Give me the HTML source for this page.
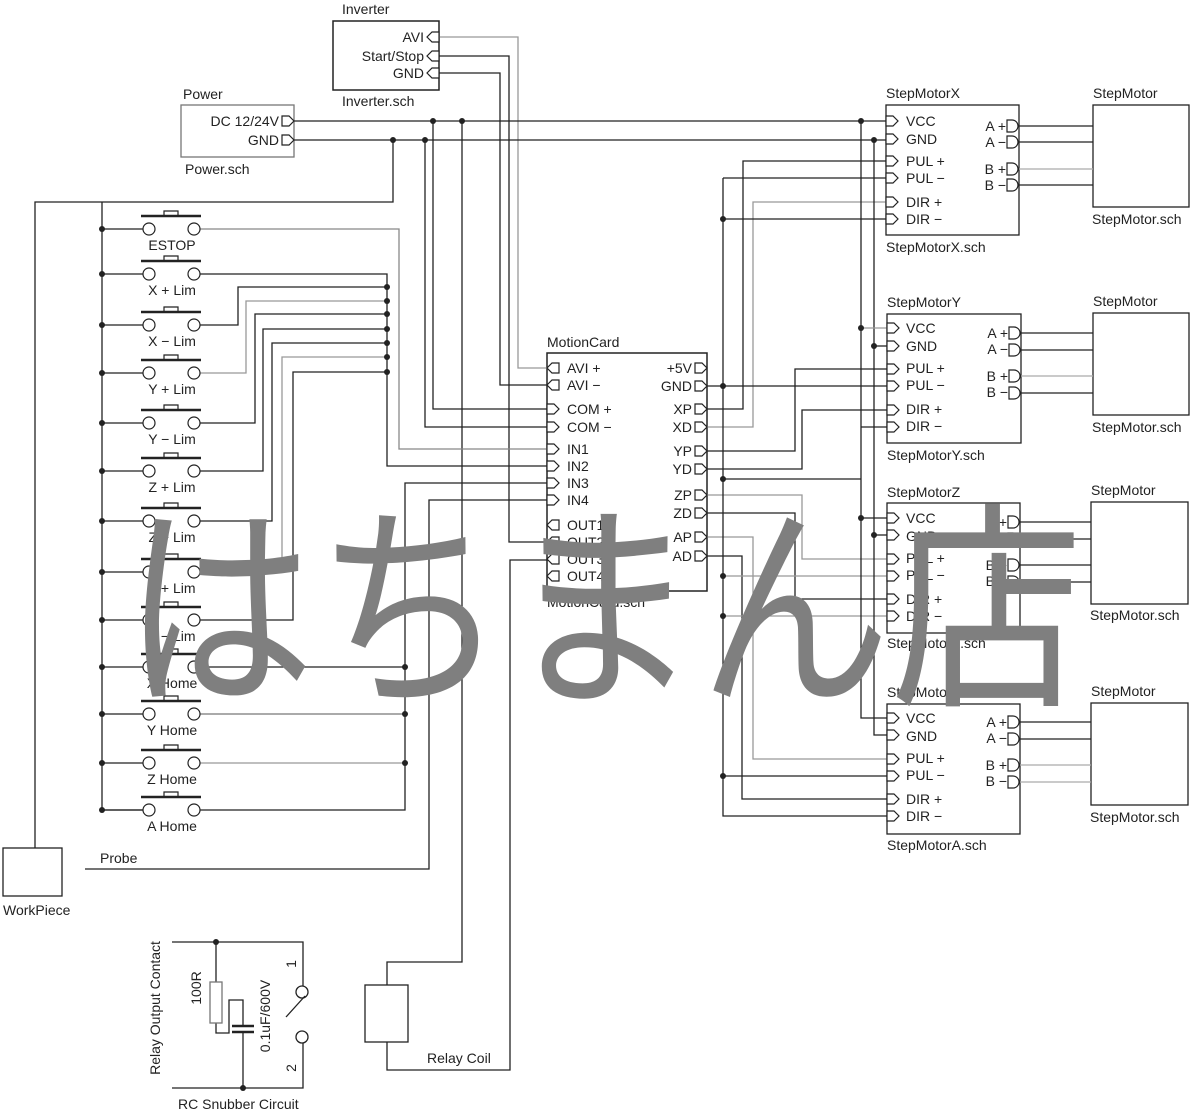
<!DOCTYPE html>
<html><head><meta charset="utf-8"><style>
html,body{margin:0;padding:0;background:#fff;}
svg{display:block;}
text{font-family:"Liberation Sans",sans-serif;font-size:14px;fill:#222;}
.wm{font-family:"Noto Sans CJK JP","Liberation Sans",sans-serif;font-size:200px;fill:#7f7f7f;}
</style></head><body>
<svg width="1200" height="1112" viewBox="0 0 1200 1112" xmlns="http://www.w3.org/2000/svg">
<defs>
<path id="pr" d="M-12,-5h7l5,5l-5,5h-7z" fill="#fff" stroke="#222" stroke-width="1.2"/>
<path id="pin" d="M0,-5h7l5,5l-5,5h-7z" fill="#fff" stroke="#222" stroke-width="1.2"/>
<path id="pl" d="M12,-5h-7l-5,5l5,5h7z" fill="#fff" stroke="#222" stroke-width="1.2"/>
<path id="plr" d="M0,-5h-7l-5,5l5,5h7z" fill="#fff" stroke="#222" stroke-width="1.2"/>
<path id="pd" d="M-12,-6h5a6,6 0 0 1 0,12h-5z" fill="#fff" stroke="#222" stroke-width="1.2"/>
<g id="sw"><circle cx="149" cy="0" r="6" fill="#fff" stroke="#222" stroke-width="1.2"/><circle cx="194" cy="0" r="6" fill="#fff" stroke="#222" stroke-width="1.2"/><path d="M141,-13H201" stroke="#222" stroke-width="2.5"/><path d="M164,-14v-4h14v4" fill="none" stroke="#222" stroke-width="1.2"/><circle cx="102" cy="0" r="3" fill="#222"/><path d="M102,0H143" stroke="#222" stroke-width="1.2"/></g>
</defs>

<g fill="none" stroke="#222" stroke-width="1.3">
<rect x="333" y="21" width="106" height="69" stroke-width="1.5"/>
<rect x="181" y="105" width="113" height="52" stroke="#777"/>
<rect x="547" y="353" width="160" height="238" stroke-width="1.5"/>
<rect x="886" y="105" width="133" height="130"/>
<rect x="887" y="314" width="134" height="129"/>
<rect x="887" y="503" width="133" height="130"/>
<rect x="887" y="704" width="133" height="130"/>
<rect x="1093" y="105" width="96" height="102"/>
<rect x="1093" y="313" width="96" height="102"/>
<rect x="1091" y="502" width="97" height="102"/>
<rect x="1091" y="703" width="97" height="102"/>
<rect x="3" y="848" width="59" height="48"/>
<rect x="365" y="985" width="43" height="57"/>

<path d="M439,37H518V368H548" stroke="#999"/>
<path d="M439,56H509V542H548"/>
<path d="M439,73H500V385H548"/>
<path d="M294,121H887"/>
<path d="M294,140H887"/>
<path d="M393,140V202H35V848"/>
<path d="M433,121V409H548"/>
<path d="M425,140V427H548"/>
<path d="M462,121V962H387V985"/>
<path d="M387,1042V1070H510V560H548"/>
<path d="M102,202V810H143" />
<path d="M200,229H399V449H548" stroke="#888"/>
<path d="M200,274H387V466H548"/>
<path d="M200,325H238V287H387"/>
<path d="M200,373H246V301H387" stroke="#999"/>
<path d="M200,423H255V314H387"/>
<path d="M200,471H263V329H387"/>
<path d="M200,521H272V343H387"/>
<path d="M200,572H282V357H387" stroke="#999"/>
<path d="M200,620H293V372H387"/>
<path d="M200,667H405"/>
<path d="M200,714H405" stroke="#777"/>
<path d="M200,763H405" stroke="#999"/>
<path d="M200,810H405V483H548"/>
<path d="M85,869H429V500H548"/>
<path d="M707,409H743V161H887"/>
<path d="M707,427H753V202H887" stroke="#999"/>
<path d="M707,451H795V369H887"/>
<path d="M707,469H802V410H887"/>
<path d="M707,495H802V559H887" stroke="#999"/>
<path d="M707,513H795V599H887"/>
<path d="M707,537H753V759H887" stroke="#999"/>
<path d="M707,556H742V799H887"/>
<path d="M707,386H887"/>
<path d="M723,178H887"/>
<path d="M723,178V816H887"/>
<path d="M723,219H887"/>
<path d="M723,479H861"/>
<path d="M723,576H887" stroke="#999"/>
<path d="M723,616H887" stroke="#999"/>
<path d="M723,776H887"/>
<path d="M861,121V718H887"/>
<path d="M874,140V735H887"/>
<path d="M861,328H887" stroke="#999"/>
<path d="M874,346H887"/>
<path d="M861,427H887"/>
<path d="M861,518H887"/>
<path d="M874,535H887"/>
<path d="M1019,126H1093M1019,142H1093M1019,185H1093"/>
<path d="M1019,169H1093" stroke="#aaa"/>
<path d="M1021,333H1093M1021,350H1093M1021,393H1093"/>
<path d="M1021,376H1093" stroke="#aaa"/>
<path d="M1020,522H1091M1020,539H1091M1020,565H1091M1020,582H1091"/>
<path d="M1020,722H1091M1020,739H1091"/>
<path d="M1020,765H1091M1020,782H1091" stroke="#aaa"/>
<path d="M172,942H303V986"/>
<path d="M172,1088H303V1043"/>
<path d="M286,1017L305,996"/>
<path d="M216,942V982M216,1023V1033H229V1000H243V1026M243,1032V1088"/>
<rect x="210" y="982" width="12" height="41" stroke="#777"/>
<path d="M232,1026H254M232,1032H254" stroke-width="2.5"/>
<circle cx="302" cy="992" r="6"/><circle cx="302" cy="1037" r="6"/>
</g>

<g fill="#222">
<circle cx="433" cy="121" r="3"/><circle cx="462" cy="121" r="3"/><circle cx="393" cy="140" r="3"/><circle cx="425" cy="140" r="3"/>
<circle cx="387" cy="287" r="3"/><circle cx="387" cy="301" r="3"/><circle cx="387" cy="314" r="3"/><circle cx="387" cy="329" r="3"/><circle cx="387" cy="343" r="3"/><circle cx="387" cy="357" r="3"/><circle cx="387" cy="372" r="3"/>
<circle cx="405" cy="667" r="3"/><circle cx="405" cy="714" r="3"/><circle cx="405" cy="763" r="3"/>
<circle cx="861" cy="121" r="3"/><circle cx="874" cy="140" r="3"/><circle cx="861" cy="328" r="3"/><circle cx="874" cy="346" r="3"/><circle cx="861" cy="518" r="3"/><circle cx="874" cy="535" r="3"/>
<circle cx="723" cy="219" r="3"/><circle cx="723" cy="386" r="3"/><circle cx="723" cy="479" r="3"/><circle cx="723" cy="576" r="3"/><circle cx="723" cy="616" r="3"/><circle cx="723" cy="776" r="3"/>
<circle cx="216" cy="942" r="3"/><circle cx="243" cy="1088" r="3"/>
</g>

<use href="#sw" y="229"/><use href="#sw" y="274"/><use href="#sw" y="325"/><use href="#sw" y="373"/><use href="#sw" y="423"/><use href="#sw" y="471"/><use href="#sw" y="521"/><use href="#sw" y="572"/><use href="#sw" y="620"/><use href="#sw" y="667"/><use href="#sw" y="714"/><use href="#sw" y="763"/><use href="#sw" y="810"/>
<g text-anchor="middle">
<text x="172" y="250">ESTOP</text><text x="172" y="295">X + Lim</text><text x="172" y="346">X − Lim</text><text x="172" y="394">Y + Lim</text><text x="172" y="444">Y − Lim</text><text x="172" y="492">Z + Lim</text><text x="172" y="542">Z − Lim</text><text x="172" y="593">A + Lim</text><text x="172" y="641">A − Lim</text><text x="172" y="688">X Home</text><text x="172" y="735">Y Home</text><text x="172" y="784">Z Home</text><text x="172" y="831">A Home</text>
</g>

<use href="#plr" x="439" y="37"/><use href="#plr" x="439" y="56"/><use href="#plr" x="439" y="73"/>
<use href="#pr" x="294" y="121"/><use href="#pr" x="294" y="140"/>
<use href="#pl" x="547" y="368"/><use href="#pl" x="547" y="385"/><use href="#pin" x="547" y="409"/><use href="#pin" x="547" y="427"/><use href="#pin" x="547" y="449"/><use href="#pin" x="547" y="466"/><use href="#pin" x="547" y="483"/><use href="#pin" x="547" y="500"/><use href="#pl" x="547" y="525"/><use href="#pl" x="547" y="542"/><use href="#pl" x="547" y="559"/><use href="#pl" x="547" y="576"/>
<use href="#pr" x="707" y="368"/><use href="#pr" x="707" y="386"/><use href="#pr" x="707" y="409"/><use href="#pr" x="707" y="427"/><use href="#pr" x="707" y="451"/><use href="#pr" x="707" y="469"/><use href="#pr" x="707" y="495"/><use href="#pr" x="707" y="513"/><use href="#pr" x="707" y="537"/><use href="#pr" x="707" y="556"/>
<use href="#pin" x="886" y="121"/><use href="#pin" x="886" y="139"/><use href="#pin" x="886" y="161"/><use href="#pin" x="886" y="178"/><use href="#pin" x="886" y="202"/><use href="#pin" x="886" y="219"/>
<use href="#pin" x="887" y="328"/><use href="#pin" x="887" y="346"/><use href="#pin" x="887" y="369"/><use href="#pin" x="887" y="386"/><use href="#pin" x="887" y="410"/><use href="#pin" x="887" y="427"/>
<use href="#pin" x="887" y="518"/><use href="#pin" x="887" y="535"/><use href="#pin" x="887" y="559"/><use href="#pin" x="887" y="576"/><use href="#pin" x="887" y="599"/><use href="#pin" x="887" y="616"/>
<use href="#pin" x="887" y="718"/><use href="#pin" x="887" y="735"/><use href="#pin" x="887" y="759"/><use href="#pin" x="887" y="776"/><use href="#pin" x="887" y="799"/><use href="#pin" x="887" y="816"/>
<use href="#pd" x="1019" y="126"/><use href="#pd" x="1019" y="142"/><use href="#pd" x="1019" y="169"/><use href="#pd" x="1019" y="185"/>
<use href="#pd" x="1021" y="333"/><use href="#pd" x="1021" y="350"/><use href="#pd" x="1021" y="376"/><use href="#pd" x="1021" y="393"/>
<use href="#pd" x="1020" y="522"/><use href="#pd" x="1020" y="539"/><use href="#pd" x="1020" y="565"/><use href="#pd" x="1020" y="582"/>
<use href="#pd" x="1020" y="722"/><use href="#pd" x="1020" y="739"/><use href="#pd" x="1020" y="765"/><use href="#pd" x="1020" y="782"/>

<text x="342" y="14">Inverter</text><text x="342" y="106">Inverter.sch</text>
<g text-anchor="end"><text x="424" y="42">AVI</text><text x="424" y="61">Start/Stop</text><text x="424" y="78">GND</text>
<text x="279" y="126">DC 12/24V</text><text x="279" y="145">GND</text></g>
<text x="183" y="99">Power</text><text x="185" y="174">Power.sch</text>
<text x="547" y="347">MotionCard</text><text x="547" y="607">MotionCard.sch</text>
<g><text x="567" y="373">AVI +</text><text x="567" y="390">AVI −</text><text x="567" y="414">COM +</text><text x="567" y="432">COM −</text><text x="567" y="454">IN1</text><text x="567" y="471">IN2</text><text x="567" y="488">IN3</text><text x="567" y="505">IN4</text><text x="567" y="530">OUT1</text><text x="567" y="547">OUT2</text><text x="567" y="564">OUT3</text><text x="567" y="581">OUT4</text></g>
<g text-anchor="end"><text x="692" y="373">+5V</text><text x="692" y="391">GND</text><text x="692" y="414">XP</text><text x="692" y="432">XD</text><text x="692" y="456">YP</text><text x="692" y="474">YD</text><text x="692" y="500">ZP</text><text x="692" y="518">ZD</text><text x="692" y="542">AP</text><text x="692" y="561">AD</text></g>

<text x="886" y="98">StepMotorX</text><text x="886" y="252">StepMotorX.sch</text>
<text x="887" y="307">StepMotorY</text><text x="887" y="460">StepMotorY.sch</text>
<text x="887" y="497">StepMotorZ</text><text x="887" y="648">StepMotorZ.sch</text>
<text x="887" y="697">StepMotorA</text><text x="887" y="850">StepMotorA.sch</text>
<g id="lx">
<text x="906" y="126">VCC</text><text x="906" y="144">GND</text><text x="906" y="166">PUL +</text><text x="906" y="183">PUL −</text><text x="906" y="207">DIR +</text><text x="906" y="224">DIR −</text>
</g>
<use href="#lx" y="207"/><use href="#lx" y="397"/><use href="#lx" y="597"/>
<g id="rx" text-anchor="end"><text x="1006" y="131">A +</text><text x="1006" y="147">A −</text><text x="1006" y="174">B +</text><text x="1006" y="190">B −</text></g>
<use href="#rx" x="2" y="207"/><use href="#rx" x="1" y="396"/><use href="#rx" x="1" y="596"/>
<text x="1093" y="98">StepMotor</text><text x="1092" y="224">StepMotor.sch</text>
<text x="1093" y="306">StepMotor</text><text x="1092" y="432">StepMotor.sch</text>
<text x="1091" y="495">StepMotor</text><text x="1090" y="620">StepMotor.sch</text>
<text x="1091" y="696">StepMotor</text><text x="1090" y="822">StepMotor.sch</text>

<text x="3" y="915">WorkPiece</text><text x="100" y="863">Probe</text>
<text x="427" y="1063">Relay Coil</text><text x="178" y="1109">RC Snubber Circuit</text>
<text transform="translate(160,1008) rotate(-90)" text-anchor="middle">Relay Output Contact</text>
<text transform="translate(201,988) rotate(-90)" text-anchor="middle">100R</text>
<text transform="translate(270,1016) rotate(-90)" text-anchor="middle">0.1uF/600V</text>
<text transform="translate(296,964) rotate(-90)" text-anchor="middle">1</text>
<text transform="translate(296,1068) rotate(-90)" text-anchor="middle">2</text>

<text class="wm" transform="scale(0.96,1.1)" x="128" y="626">はちまん店</text>
</svg>
</body></html>
